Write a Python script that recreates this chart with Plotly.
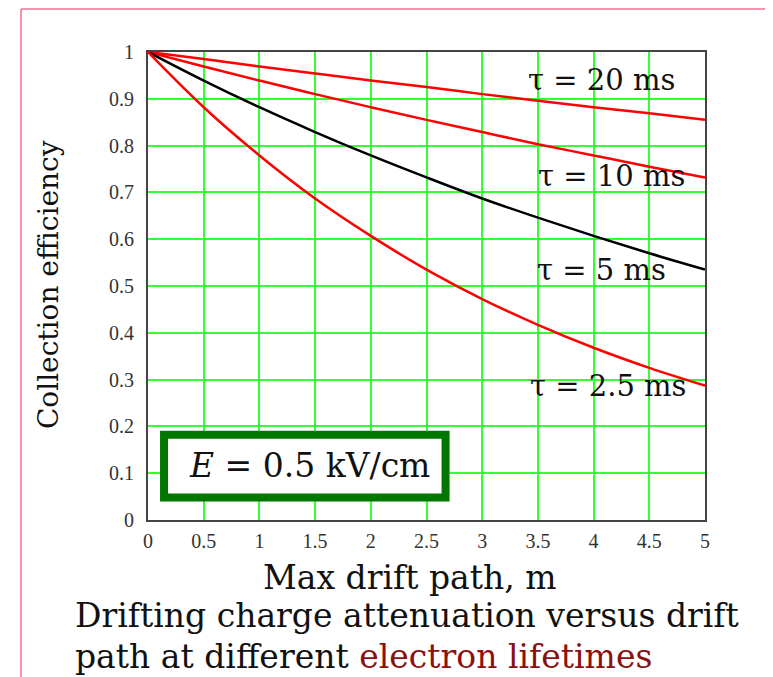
import plotly.graph_objects as go

drift_m = [0, 0.5, 1, 1.5, 2, 2.5, 3, 3.5, 4, 4.5, 5]
eff_20ms = [1, 0.985, 0.969, 0.954, 0.939, 0.925, 0.910, 0.896, 0.882, 0.869, 0.855]
eff_10ms = [1, 0.969, 0.939, 0.910, 0.882, 0.855, 0.829, 0.803, 0.779, 0.755, 0.732]
eff_5ms = [1, 0.939, 0.882, 0.829, 0.779, 0.732, 0.687, 0.646, 0.607, 0.570, 0.535]
eff_2_5ms = [1, 0.882, 0.779, 0.687, 0.607, 0.535, 0.472, 0.417, 0.368, 0.325, 0.287]

x_ticks = [0, 0.5, 1, 1.5, 2, 2.5, 3, 3.5, 4, 4.5, 5]
y_ticks = [0, 0.1, 0.2, 0.3, 0.4, 0.5, 0.6, 0.7, 0.8, 0.9, 1]

series = [
    ("τ = 20 ms", eff_20ms, "#ff0000"),
    ("τ = 10 ms", eff_10ms, "#ff0000"),
    ("τ = 5 ms", eff_5ms, "#000000"),
    ("τ = 2.5 ms", eff_2_5ms, "#ff0000"),
]

SERIF = "DejaVu Serif"
TXT = "#111111"

fig = go.Figure()
for name, vals, col in series:
    fig.add_trace(go.Scatter(x=drift_m, y=vals, mode="lines", name=name,
                             line=dict(color=col, width=2.5, shape="spline"),
                             showlegend=False, hoverinfo="skip"))

# curve labels
labels = [("τ = 20 ms", 4.07, 0.940), ("τ = 10 ms", 4.16, 0.735),
          ("τ = 5 ms", 4.07, 0.534), ("τ = 2.5 ms", 4.13, 0.286)]
for txt, lx, ly in labels:
    fig.add_annotation(x=lx, y=ly, text=txt, showarrow=False,
                       font=dict(family=SERIF, size=29, color=TXT),
                       xanchor="center", yanchor="middle")

# green box with field annotation
fig.add_shape(type="rect", xref="x", yref="y", x0=0.144, x1=2.671, y0=0.048, y1=0.182,
              line=dict(color="#007800", width=8), fillcolor="white", layer="above")
fig.add_annotation(x=1.454, y=0.1175, xref="x", yref="y",
                   text="<i>E</i> = 0.5 kV/cm", showarrow=False,
                   font=dict(family=SERIF, size=33, color=TXT))

# pink page border
fig.add_shape(type="line", xref="paper", yref="paper", x0=-0.228, x1=1.2,
              y0=1.092, y1=1.092, line=dict(color="#f07090", width=1.5))
fig.add_shape(type="line", xref="paper", yref="paper", x0=-0.228, x1=-0.228,
              y0=1.092, y1=-0.4, line=dict(color="#f07090", width=1.5))

# axis titles and caption
fig.add_annotation(xref="paper", yref="paper", x=0.470, y=-0.122,
                   text="Max drift path, m", showarrow=False,
                   font=dict(family=SERIF, size=33, color=TXT),
                   xanchor="center", yanchor="middle")
fig.add_annotation(xref="paper", yref="paper", x=-0.135, y=-0.203, xanchor="left",
                   yanchor="middle",
                   text="Drifting charge attenuation versus drift",
                   showarrow=False, font=dict(family=SERIF, size=33, color=TXT))
fig.add_annotation(xref="paper", yref="paper", x=-0.135, y=-0.291, xanchor="left",
                   yanchor="middle",
                   text="path at different <span style='color:#8b1010'>electron lifetimes</span>",
                   showarrow=False, font=dict(family=SERIF, size=33, color=TXT))
fig.add_annotation(xref="paper", yref="paper", x=-0.1795, y=0.502, textangle=-90,
                   text="Collection efficiency", showarrow=False,
                   font=dict(family=SERIF, size=28, color=TXT),
                   xanchor="center", yanchor="middle")

axis_common = dict(showgrid=True, gridcolor="#33ff33", gridwidth=1.5,
                   showline=True, linecolor="#444", linewidth=2, mirror=True,
                   zeroline=False, ticks="")
tick_font = dict(family="Liberation Serif", size=20, color="#333333")
fig.update_xaxes(range=[0, 5], tickvals=x_ticks,
                 ticktext=[f"{v:g}" for v in x_ticks], ticklabelstandoff=2,
                 tickfont=tick_font, **axis_common)
fig.update_yaxes(range=[0, 1], tickvals=y_ticks,
                 ticktext=[f"{v:g}" for v in y_ticks], ticklabelstandoff=8,
                 tickfont=tick_font, **axis_common)

fig.update_layout(width=765, height=669, paper_bgcolor="white", plot_bgcolor="white",
                  margin=dict(l=140, r=68, t=44, b=157), showlegend=False)

fig.write_html("out.html")
